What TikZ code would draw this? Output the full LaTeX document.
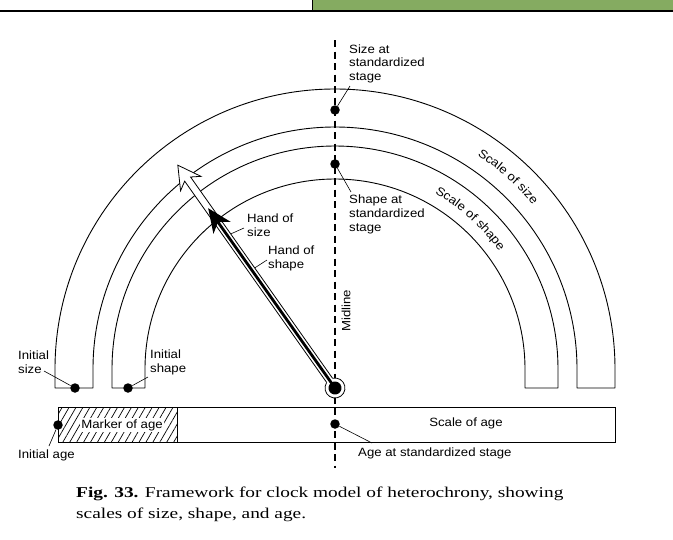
\documentclass[tikz,border=0pt]{standalone}
\usepackage{fontspec}
\setmainfont{Liberation Sans}[FakeStretch=1.1]
\newfontfamily\capfont{Liberation Serif}[FakeStretch=1.29]
\usetikzlibrary{patterns.meta,decorations.text}
\definecolor{topgreen}{RGB}{133,171,97}
\begin{document}
\begin{tikzpicture}[x=1pt,y=-1pt,
  lbl/.style={inner sep=0pt, font=\fontsize{12}{13.6}\selectfont, align=left},
  band/.style={line width=0.9pt, line join=round},
  dotm/.style={circle, fill=black, inner sep=0pt, minimum size=9.5pt},
  leader/.style={line width=0.6pt},
  midl/.style={line width=1.3pt, dash pattern=on 7pt off 4.5pt},
  arctext/.style={decorate, decoration={text along path, text align=center, text={|\fontsize{12}{14}\selectfont|#1}}}]
\useasboundingbox (0,0) rectangle (673,539);
\fill[white] (0,0) rectangle (673,539);
% top strip
\fill[topgreen] (313,0) rectangle (673,10);
\draw[line width=1.4pt] (312.5,0) -- (312.5,11);
\draw[line width=2pt] (0,11) -- (673,11);
% scale bands
\coordinate (ctr) at (335,369);
\draw[band] (55,388) -- (55,369) arc[start angle=180, end angle=360, radius=280] -- (615,388) -- (577,388) -- (577,369) arc[start angle=0, end angle=-180, radius=242] -- (93,388) -- cycle;
\draw[band] (112,388) -- (112,369) arc[start angle=180, end angle=360, radius=223] -- (558,388) -- (525,388) -- (525,369) arc[start angle=0, end angle=-180, radius=190] -- (145,388) -- cycle;
\path[arctext={Scale of size}] (ctr) ++(290:257) arc[start angle=290, end angle=334, radius=257];
\path[arctext={Scale of shape}] (ctr) ++(290:202) arc[start angle=290, end angle=334, radius=202];
% midline
\coordinate (mtop) at (335,40);
\coordinate (mbot) at (335,468);
\draw[midl] (mtop) -- (mbot);
% age bar
\draw[line width=0.9pt, pattern={Lines[angle=60,distance=6pt,line width=0.7pt]}] (58,407) rectangle (177,442);
\draw[line width=0.9pt] (58,407) rectangle (615,442);
\node[lbl, fill=white, inner sep=1.5pt] (marker) at (122,425) {Marker of age};
\node[lbl] (sage) at (466,423) {Scale of age};
% hand
\coordinate (hub) at (335,388);
\begin{scope}[shift={(hub)}, rotate=125.2]
\filldraw[fill=white, line width=0.8pt] (0,0) circle (10);
\fill[white] (7,3.6) -- (255.7,3.6) -- (250.2,12.5) -- (272.7,0) -- (250.2,-12.5) -- (255.7,-3.6) -- (7,-3.6) -- cycle;
\draw[line width=0.8pt, line join=miter] (9.3,3.6) -- (255.7,3.6) -- (250.2,12.5) -- (272.7,0) -- (250.2,-12.5) -- (255.7,-3.6) -- (9.3,-3.6);
\draw[line width=2.8pt] (0,0) -- (204,0);
\fill (220,0) -- (196,10.5) -- (203,0) -- (196,-10.5) -- cycle;
\fill (0,0) circle (6.5);
\coordinate (hsz) at (186,3.6);
\coordinate (hsh) at (144.4,3.6);
\end{scope}
% dots
\node[dotm] (dsize) at (335,110) {};
\node[dotm] (dshape) at (335,164) {};
\node[dotm] (dinsize) at (75,388) {};
\node[dotm] (dinshape) at (128,388) {};
\node[dotm] (dinage) at (58,425) {};
\node[dotm] (dage) at (335,424) {};
% labels
\node[lbl, anchor=north west] (tsize) at (349,44.5) {Size at\\standardized\\stage};
\node[lbl, anchor=north west] (tshape) at (349,195) {Shape at\\standardized\\stage};
\node[lbl, anchor=north west] (thsize) at (247,213.5) {Hand of\\size};
\node[lbl, anchor=north west] (thshape) at (268,245.5) {Hand of\\shape};
\node[lbl, anchor=north west] (tinsize) at (18,350.5) {Initial\\size};
\node[lbl, anchor=north west] (tinshape) at (150,349.5) {Initial\\shape};
\node[lbl, rotate=90] (tmid) at (346,311) {Midline};
\node[lbl, anchor=west] (tinage) at (18,455) {Initial age};
\node[lbl, anchor=west] (tage) at (358,453) {Age at standardized stage};
% leader ends
\coordinate (lsize) at (350,86);
\coordinate (lshape) at (351,192);
\coordinate (lhsz) at (244,228);
\coordinate (lhsh) at (267,260);
\coordinate (linsize) at (44,371);
\coordinate (linshape) at (148,377);
\coordinate (linage) at (49,446);
\coordinate (lage) at (372,443);
\draw[leader] (dsize) -- (lsize);
\draw[leader] (dshape) -- (lshape);
\draw[leader] (hsz) -- (lhsz);
\draw[leader] (hsh) -- (lhsh);
\draw[leader] (dinsize) -- (linsize);
\draw[leader] (dinshape) -- (linshape);
\draw[leader] (dinage) -- (linage);
\draw[leader] (dage) -- (lage);
% caption
\node[anchor=north west, inner sep=0pt, align=left, font=\capfont\fontsize{15}{21}\selectfont] (cap) at (76,486.6) {\textbf{Fig. 33.} Framework for clock model of heterochrony, showing\\scales of size, shape, and age.};
\end{tikzpicture}
\end{document}
